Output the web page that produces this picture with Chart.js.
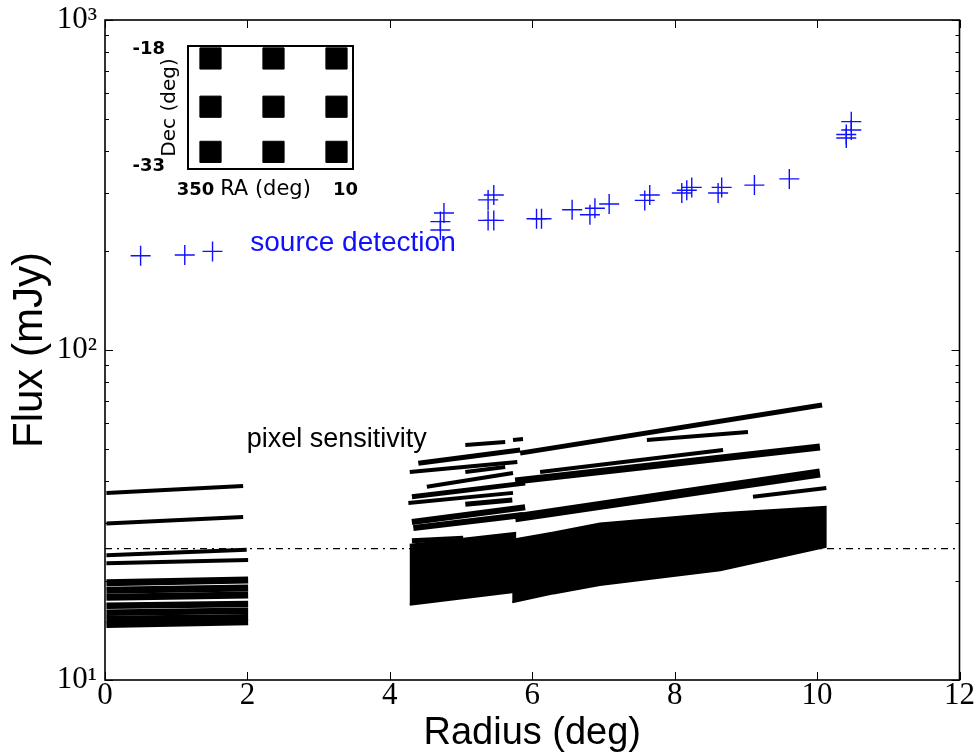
<!DOCTYPE html>
<html>
<head>
<meta charset="utf-8">
<script src="https://cdn.jsdelivr.net/npm/chart.js@4.4.0/dist/chart.umd.min.js"></script>
<style>
html,body{margin:0;padding:0;background:#fff;}
#wrap{position:relative;width:975px;height:756px;overflow:hidden;}
#main{position:absolute;left:0;top:0;}
#inset{position:absolute;left:110px;top:30px;}
</style>
</head>
<body>
<div id="wrap">
<canvas id="main" width="975" height="756"></canvas>
<canvas id="inset" width="260" height="180"></canvas>
</div>
<script>
// ---------------- data ----------------
const xTicks = [0, 2, 4, 6, 8, 10, 12];
const yTicks = [10, 100, 1000];
const yTickLabels = ['10¹', '10²', '10³'];
const yMinorMultipliers = [2, 3, 4, 5, 6, 7, 8, 9];
const xTitle = 'Radius (deg)';
const yTitle = 'Flux (mJy)';

// source detection limits (blue crosses)
const detectionRadius = [0.50, 1.12, 1.51, 4.71, 4.71, 4.76, 5.38, 5.46, 5.38, 5.46,
  6.06, 6.13, 6.56, 6.81, 6.88, 7.08, 7.58, 7.65, 8.10, 8.17, 8.24, 8.61, 8.66,
  9.12, 9.61, 10.41, 10.41, 10.48, 10.48];
const detectionFlux = [193, 194, 199, 231, 245, 260, 285, 295, 247, 247,
  250, 250, 266, 257, 269, 277, 284, 295, 299, 305, 311, 299, 311,
  316, 330, 439, 450, 464, 492];

// pixel sensitivity tracks: start radius/flux -> end radius/flux
const trackR0 = [0.02, 0.02, 0.02, 0.02, 0.02, 0.02, 0.02, 0.02, 0.02, 0.02, 0.02,
  5.06, 5.73, 4.40, 4.28, 5.06, 4.52, 4.31, 4.26, 5.06, 4.31, 4.33, 4.31,
  5.83, 7.61, 5.76, 6.11, 5.76, 9.10];
const trackF0 = [36.9, 29.8, 23.9, 22.6, 19.7, 18.7, 17.8, 16.8, 16.0, 15.3, 14.7,
  51.5, 53.4, 45.4, 42.7, 42.7, 38.5, 35.9, 34.4, 34.1, 30.1, 28.9, 26.4,
  48.7, 53.4, 40.1, 42.7, 31.0, 35.9];
const trackR1 = [1.94, 1.94, 1.99, 2.01, 2.01, 2.01, 2.01, 2.01, 2.01, 2.01, 2.01,
  5.62, 5.87, 5.83, 5.79, 5.62, 5.73, 5.90, 5.73, 5.72, 5.90, 5.87, 5.03,
  10.07, 9.03, 10.04, 8.68, 10.04, 10.13];
const trackF1 = [38.7, 31.2, 24.8, 23.1, 20.1, 19.0, 18.1, 17.0, 16.2, 15.5, 15.0,
  52.6, 53.7, 49.8, 45.8, 44.2, 42.4, 39.5, 36.9, 35.1, 33.4, 31.6, 26.9,
  68.1, 56.4, 50.8, 49.8, 42.4, 38.2];

// dense pixel regions: upper and lower envelopes
const massLeftR = [4.28, 5.76];
const massLeftUpper = [25.7, 27.9];
const massLeftLower = [16.9, 18.5];
const massRightR = [5.72, 6.30, 6.95, 8.64, 10.12];
const massRightUpper = [26.6, 28.0, 29.8, 32.0, 33.5];
const massRightLower = [17.2, 18.3, 19.4, 21.5, 25.3];

const thresholdFlux = 25;
const thresholdRange = [0, 12];

const sourceLabel = 'source detection';
const sourceLabelPos = [2.04, 211];
const pixelLabel = 'pixel sensitivity';
const pixelLabelPos = [1.99, 53.4];

// inset: survey pointings (3 x 3 grid)
const pointingRA = [-8.0, 0.4, 8.8, -8.0, 0.4, 8.8, -8.0, 0.4, 8.8];
const pointingDec = [-19.2, -19.2, -19.2, -25.4, -25.4, -25.4, -31.2, -31.2, -31.2];
const insetXTicks = [-10, 10];
const insetXTickLabels = ['350', '10'];
const insetYTicks = [-33, -18];
const insetYTickLabels = ['-33', '-18'];
const insetXTitle = 'RA (deg)';
const insetYTitle = 'Dec (deg)';

// ---------------- styles ----------------
const trackWidths = [4, 4, 4, 4, 7, 7, 7, 6.5, 6.5, 6.5, 6.5,
  4, 4, 5, 4, 4, 4, 5, 4, 5, 6, 6, 5,
  5, 4, 7, 4, 9, 4];

function pts(rs, fs) { return rs.map((r, i) => ({ x: r, y: fs[i] })); }
function polygon(rs, up, lo) {
  const a = pts(rs, up);
  const b = pts(rs, lo).reverse();
  return a.concat(b);
}

const datasets = [];
datasets.push({
  type: 'scatter',
  label: 'source detection',
  data: pts(detectionRadius, detectionFlux),
  pointStyle: 'cross',
  pointRadius: 10,
  borderColor: '#1010ff',
  backgroundColor: '#1010ff',
  borderWidth: 1.4,
  order: 0
});
trackR0.forEach((r, i) => {
  datasets.push({
    type: 'line',
    data: [{ x: r, y: trackF0[i] }, { x: trackR1[i], y: trackF1[i] }],
    borderColor: '#000',
    borderWidth: trackWidths[i],
    borderCapStyle: 'butt',
    pointRadius: 0,
    fill: false,
    tension: 0,
    order: 1
  });
});
[[massLeftR, massLeftUpper, massLeftLower], [massRightR, massRightUpper, massRightLower]].forEach(m => {
  datasets.push({
    type: 'line',
    data: polygon(m[0], m[1], m[2]),
    borderColor: '#000',
    backgroundColor: '#000',
    borderWidth: 2,
    pointRadius: 0,
    fill: 'shape',
    tension: 0,
    order: 2
  });
});
datasets.push({
  type: 'line',
  data: [{ x: thresholdRange[0], y: thresholdFlux }, { x: thresholdRange[1], y: thresholdFlux }],
  borderColor: '#000',
  borderWidth: 1.2,
  borderDash: [7, 5, 2, 5],
  pointRadius: 0,
  fill: false,
  order: 3
});

const serif = '"Liberation Serif", "DejaVu Serif", serif';
const sans = '"Liberation Sans", Arial, sans-serif';

const frameTicks = {
  id: 'frameTicks',
  afterDatasetsDraw(chart) {
    const { ctx, chartArea: a, scales: { x, y } } = chart;
    ctx.save();
    ctx.strokeStyle = '#000';
    ctx.lineWidth = 1;
    const seg = (x1, y1, x2, y2) => { ctx.beginPath(); ctx.moveTo(x1, y1); ctx.lineTo(x2, y2); ctx.stroke(); };
    xTicks.forEach(v => {
      const px = Math.round(x.getPixelForValue(v)) + 0.5;
      seg(px, a.bottom, px, a.bottom - 8);
      seg(px, a.top, px, a.top + 8);
    });
    yTicks.forEach((v, i) => {
      const py = Math.round(y.getPixelForValue(v)) + 0.5;
      seg(a.left, py, a.left + 8, py);
      seg(a.right, py, a.right - 8, py);
      if (i < yTicks.length - 1) {
        yMinorMultipliers.forEach(m => {
          const q = Math.round(y.getPixelForValue(v * m)) + 0.5;
          seg(a.left, q, a.left + 4, q);
          seg(a.right, q, a.right - 4, q);
        });
      }
    });
    ctx.lineWidth = 1.6;
    ctx.strokeRect(a.left, a.top, a.width, a.height);
    // annotations
    ctx.textBaseline = 'middle';
    ctx.textAlign = 'left';
    ctx.fillStyle = '#1010ff';
    ctx.font = '28px ' + sans;
    ctx.fillText(sourceLabel, x.getPixelForValue(sourceLabelPos[0]), y.getPixelForValue(sourceLabelPos[1]));
    ctx.fillStyle = '#000';
    ctx.font = '27px ' + sans;
    ctx.fillText(pixelLabel, x.getPixelForValue(pixelLabelPos[0]), y.getPixelForValue(pixelLabelPos[1]));
    ctx.restore();
  }
};

new Chart(document.getElementById('main'), {
  type: 'scatter',
  data: { datasets },
  options: {
    responsive: false,
    animation: false,
    events: [],
    layout: { padding: { top: 20, right: 15, left: 0, bottom: 0 } },
    plugins: { legend: { display: false }, tooltip: { enabled: false } },
    scales: {
      x: {
        type: 'linear', min: 0, max: 12,
        afterBuildTicks: s => { s.ticks = xTicks.map(v => ({ value: v })); },
        afterFit: s => { s.height = 76; },
        ticks: { autoSkip: false, maxRotation: 0, padding: 0, color: '#000',
          font: { family: serif, size: 31, lineHeight: 1 }, callback: v => String(v) },
        grid: { display: false, drawTicks: false },
        border: { display: false },
        title: { display: true, text: xTitle, color: '#000', padding: { top: 0, bottom: 0 },
          font: { family: sans, size: 38, lineHeight: 1.2 } }
      },
      y: {
        type: 'logarithmic', min: 10, max: 1000,
        afterBuildTicks: s => { s.ticks = yTicks.map(v => ({ value: v, major: true })); },
        afterFit: s => { s.width = 105; },
        ticks: { autoSkip: false, padding: 0, color: '#000',
          font: { family: serif, size: 31, lineHeight: 1 }, callback: v => yTickLabels[yTicks.indexOf(v)] },
        grid: { display: false, drawTicks: true, tickLength: 8 },
        border: { display: false },
        title: { display: true, text: yTitle, color: '#000', padding: { top: 5, bottom: 0 },
          font: { family: sans, size: 42, lineHeight: 1.2 } }
      }
    }
  },
  plugins: [frameTicks]
});

// ---------------- inset ----------------
const insetFrame = {
  id: 'insetFrame',
  afterDatasetsDraw(chart) {
    const { ctx, chartArea: a } = chart;
    ctx.save();
    ctx.strokeStyle = '#000';
    ctx.lineWidth = 2;
    ctx.strokeRect(a.left, a.top, a.width, a.height);
    ctx.fillStyle = '#000';
    ctx.font = '21px "DejaVu Sans", sans-serif';
    ctx.textAlign = 'center';
    ctx.textBaseline = 'middle';
    ctx.fillText(insetXTitle, (a.left + a.right) / 2 - 5, a.bottom + 21);
    ctx.translate(a.left - 18, (a.top + a.bottom) / 2);
    ctx.rotate(-Math.PI / 2);
    ctx.font = '20px "DejaVu Sans", sans-serif';
    ctx.fillText(insetYTitle, 0, 0);
    ctx.restore();
  }
};

new Chart(document.getElementById('inset'), {
  type: 'scatter',
  data: { datasets: [{
    data: pts(pointingRA, pointingDec),
    pointStyle: 'rect',
    pointRadius: 15,
    backgroundColor: '#000',
    borderColor: '#000',
    borderWidth: 1
  }] },
  options: {
    responsive: false,
    animation: false,
    events: [],
    layout: { padding: { top: 15, right: 17, left: 0, bottom: 0 } },
    plugins: { legend: { display: false }, tooltip: { enabled: false } },
    scales: {
      x: {
        type: 'linear', min: -11, max: 11,
        afterBuildTicks: s => { s.ticks = insetXTicks.map(v => ({ value: v })); },
        afterFit: s => { s.height = 41; },
        ticks: { autoSkip: false, maxRotation: 0, padding: 0, color: '#000',
          font: { family: '"DejaVu Sans", sans-serif', size: 18, weight: 'bold', lineHeight: 1 },
          callback: v => insetXTickLabels[insetXTicks.indexOf(v)] },
        grid: { display: false, drawTicks: true, tickLength: 12 },
        border: { display: false }
      },
      y: {
        type: 'linear', min: -33.4, max: -17.6,
        afterBuildTicks: s => { s.ticks = insetYTicks.map(v => ({ value: v })); },
        afterFit: s => { s.width = 78; },
        ticks: { autoSkip: false, padding: 0, color: '#000',
          font: { family: '"DejaVu Sans", sans-serif', size: 18, weight: 'bold', lineHeight: 1 },
          callback: v => insetYTickLabels[insetYTicks.indexOf(v)] },
        grid: { display: false, drawTicks: true, tickLength: 23 },
        border: { display: false }
      }
    }
  },
  plugins: [insetFrame]
});
</script>
</body>
</html>
